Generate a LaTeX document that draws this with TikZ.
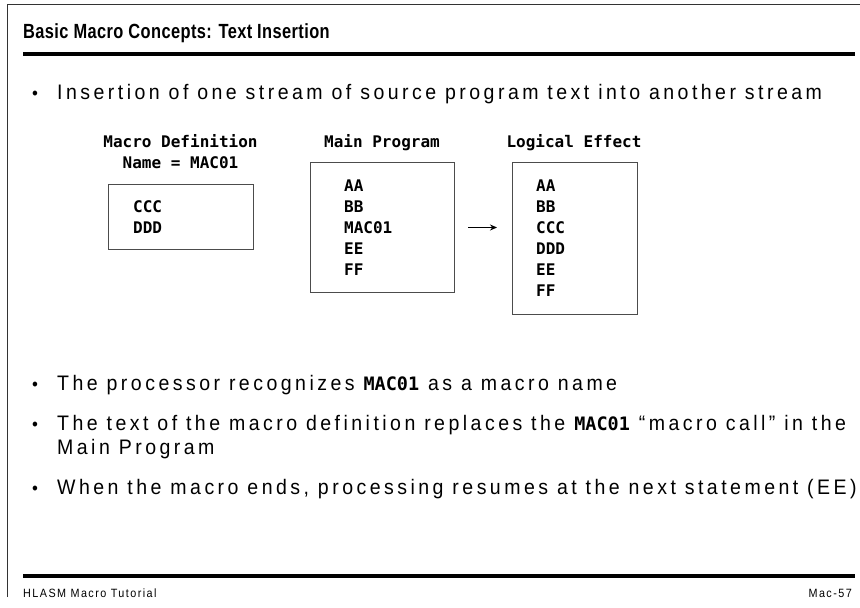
\documentclass[tikz,border=0pt]{standalone}
\usepackage{fontspec}
\setmainfont{Liberation Sans}[FakeStretch=0.93, LetterSpace=16.5]
\newfontfamily\titlefont{Liberation Sans}[FakeStretch=0.8, LetterSpace=2]
\newfontfamily\footfont{Liberation Sans}[FakeStretch=0.9, LetterSpace=12]
\newfontfamily\monob{DejaVu Sans Mono Bold}
\usetikzlibrary{arrows.meta}
\begin{document}
\begin{tikzpicture}[x=1pt,y=-1pt,
  txt/.style={anchor=base west, inner sep=0pt, font=\fontsize{21}{24}\selectfont},
  bul/.style={anchor=base, inner sep=0pt, font=\fontsize{18}{23}\selectfont},
  head/.style={anchor=base, inner sep=0pt, font=\fontsize{16}{21}\monob},
  code/.style={anchor=base west, inner sep=0pt, font=\fontsize{16}{21}\monob},
  codebox/.style={draw=black!70, line width=0.8pt},
  rule/.style={line width=4.5pt},
  frame/.style={line width=1pt, draw=black!80}]
\useasboundingbox (0,0) rectangle (860,608);
% frame
\coordinate (fb) at (7,597);
\coordinate (fc) at (7,4);
\coordinate (fr) at (860,4);
\draw[frame] (fb) -- (fc) -- (fr);
% title
\node[anchor=base west, inner sep=0pt, font=\fontsize{20.5}{24}\titlefont\bfseries] (title) at (23,38) {Basic Macro Concepts: Text Insertion};
\coordinate (r1a) at (23,54); \coordinate (r1b) at (855,54);
\draw[rule] (r1a) -- (r1b);
% bullet 1
\node[bul] (b1) at (35,99) {\textbullet};
\node[txt] (t1) at (57,99) {Insertion of one stream of source program text into another stream};
% headings
\node[head] (h1) at (180.5,147) {Macro Definition};
\node[head] (h1b) at (180.5,168) {Name = MAC01};
\node[head] (h2) at (382,147) {Main Program};
\node[head] (h3) at (574,147) {Logical Effect};
% boxes
\draw[codebox] (108,184) rectangle (253,249);
\node[code] (m1) at (133,212.5) {CCC};
\node[code] (m2) at (133,233.5) {DDD};
\draw[codebox] (310,162) rectangle (454,292);
\node[code] (p1) at (344,191) {AA};
\node[code] (p2) at (344,212) {BB};
\node[code] (p3) at (344,233) {MAC01};
\node[code] (p4) at (344,254) {EE};
\node[code] (p5) at (344,275) {FF};
\draw[codebox] (512,162) rectangle (637,314);
\node[code] (l1) at (536,191) {AA};
\node[code] (l2) at (536,212) {BB};
\node[code] (l3) at (536,233) {CCC};
\node[code] (l4) at (536,254) {DDD};
\node[code] (l5) at (536,275) {EE};
\node[code] (l6) at (536,296) {FF};
\coordinate (aa) at (468,227.5); \coordinate (ab) at (497,227.5);
\draw[line width=0.9pt, -{Stealth[length=7pt,width=6pt]}] (aa) -- (ab);
% bullet 2
\node[bul] (b2) at (35,390) {\textbullet};
\node[txt] (t2) at (57,390) {The processor recognizes {\fontsize{18.5}{23}\monob MAC01} as a macro name};
% bullet 3
\node[bul] (b3) at (35,430) {\textbullet};
\node[txt] (t3) at (57,430) {The text of the macro definition replaces the {\fontsize{18.5}{23}\monob MAC01} “macro call” in the};
\node[txt] (t3b) at (57,454) {Main Program};
% bullet 4
\node[bul] (b4) at (35,494) {\textbullet};
\node[txt] (t4) at (57,494) {When the macro ends, processing resumes at the next statement (EE)};
% footer
\coordinate (r2a) at (23,576); \coordinate (r2b) at (855,576);
\draw[rule] (r2a) -- (r2b);
\node[anchor=base west, inner sep=0pt, font=\fontsize{12}{14}\footfont] (f1) at (23,597) {HLASM Macro Tutorial};
\node[anchor=base east, inner sep=0pt, font=\fontsize{12}{14}\footfont] (f2) at (852,597) {Mac-57};
\end{tikzpicture}
\end{document}
